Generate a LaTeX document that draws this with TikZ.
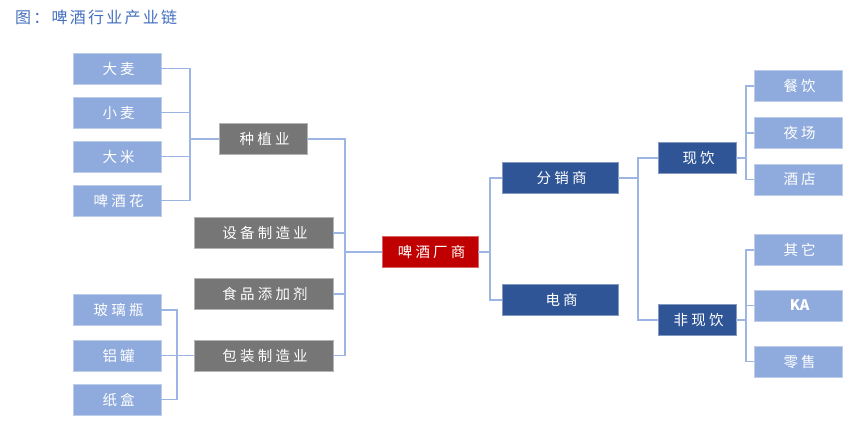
\documentclass[tikz,border=0pt]{standalone}
\usepackage{fontspec}
\setmainfont{Noto Sans CJK SC}
\newfontfamily\cjk[LetterSpace=22]{Noto Sans CJK SC}
\newfontfamily\cjktitle[LetterSpace=14]{Noto Sans CJK SC}
\definecolor{leafc}{HTML}{8FAADC}
\definecolor{grayc}{HTML}{767676}
\definecolor{redc}{HTML}{C00000}
\definecolor{bluec}{HTML}{2F5597}
\definecolor{linec}{HTML}{9DB5E2}
\definecolor{titlec}{HTML}{4470C0}
\tikzset{
  box/.style={rectangle, inner sep=0pt, minimum height=31pt, text=white,
    font=\cjk\fontsize{14.5}{14.5}\selectfont, line width=0.8pt,
    execute at begin node={\kern3.2pt}},
  leaf/.style={box, fill=leafc, draw=leafc!60!white, minimum width=88pt},
  graybox/.style={box, fill=grayc, draw=grayc!55!white},
  redbox/.style={box, fill=redc, draw=redc!60!white},
  bluebox/.style={box, fill=bluec, draw=bluec!60!white},
  conn/.style={draw=linec, line width=1.1pt}
}
\begin{document}
\begin{tikzpicture}[x=1pt,y=-1pt]
\useasboundingbox (0,0) rectangle (865,422);
\node[anchor=west, text=titlec, font=\cjktitle\fontsize{16}{16}\selectfont, inner sep=0pt] (title) at (15,17) {图：啤酒行业产业链};

% left leaves
\node[leaf] (damai) at (117,68.5) {大麦};
\node[leaf] (xiaomai) at (117,112.5) {小麦};
\node[leaf] (dami) at (117,156.5) {大米};
\node[leaf] (pjh) at (117,200.5) {啤酒花};
\node[leaf] (boli) at (117,310) {玻璃瓶};
\node[leaf] (lvguan) at (117,355.5) {铝罐};
\node[leaf] (zhihe) at (117,399.5) {纸盒};

% gray
\node[graybox, minimum width=88pt] (zhongzhi) at (263,139) {种植业};
\node[graybox, minimum width=139pt] (shebei) at (263.5,233) {设备制造业};
\node[graybox, minimum width=139pt] (shipin) at (263.5,294) {食品添加剂};
\node[graybox, minimum width=139pt] (baozhuang) at (263.5,355.5) {包装制造业};

% center
\node[redbox, minimum width=96pt] (cs) at (430,252) {啤酒厂商};
\node[bluebox, minimum width=116pt] (fx) at (560,178) {分销商};
\node[bluebox, minimum width=116pt] (ds) at (560,300) {电商};
\node[bluebox, minimum width=78pt] (xy) at (697,158) {现饮};
\node[bluebox, minimum width=78pt] (fxy) at (697,320) {非现饮};

% right leaves
\node[leaf] (cy) at (798,86) {餐饮};
\node[leaf] (yc) at (798,133) {夜场};
\node[leaf] (jd) at (798,179.5) {酒店};
\node[leaf] (qt) at (798,250) {其它};
\node[leaf, font=\rmfamily\bfseries\fontsize{14.5}{14.5}\selectfont, execute at begin node={}] (ka) at (798,305.5) {KA};
\node[leaf] (ls) at (798,361.7) {零售};

% junctions
\coordinate (jA) at (190,139);
\coordinate (jB) at (345,252);
\coordinate (jC) at (177,355.5);
\coordinate (jD) at (490,252);
\coordinate (jE) at (638,178);
\coordinate (jF) at (746,158);
\coordinate (jG) at (746,320);

\draw[conn] (damai.east) -| (jA);
\draw[conn] (xiaomai.east) -| (jA);
\draw[conn] (dami.east) -| (jA);
\draw[conn] (pjh.east) -| (jA);
\draw[conn] (jA) -- (zhongzhi.west);

\draw[conn] (zhongzhi.east) -| (jB);
\draw[conn] (shebei.east) -| (jB);
\draw[conn] (shipin.east) -| (jB);
\draw[conn] (baozhuang.east) -| (jB);
\draw[conn] (jB) -- (cs.west);

\draw[conn] (boli.east) -| (jC);
\draw[conn] (zhihe.east) -| (jC);
\draw[conn] (lvguan.east) -- (baozhuang.west);

\draw[conn] (cs.east) -- (jD);
\draw[conn] (jD) |- (fx.west);
\draw[conn] (jD) |- (ds.west);

\draw[conn] (fx.east) -- (jE);
\draw[conn] (jE) |- (xy.west);
\draw[conn] (jE) |- (fxy.west);

\draw[conn] (xy.east) -- (jF);
\draw[conn] (jF) |- (cy.west);
\draw[conn] (jF) |- (yc.west);
\draw[conn] (jF) |- (jd.west);

\draw[conn] (fxy.east) -- (jG);
\draw[conn] (jG) |- (qt.west);
\draw[conn] (jG) |- (ka.west);
\draw[conn] (jG) |- (ls.west);
\end{tikzpicture}
\end{document}
